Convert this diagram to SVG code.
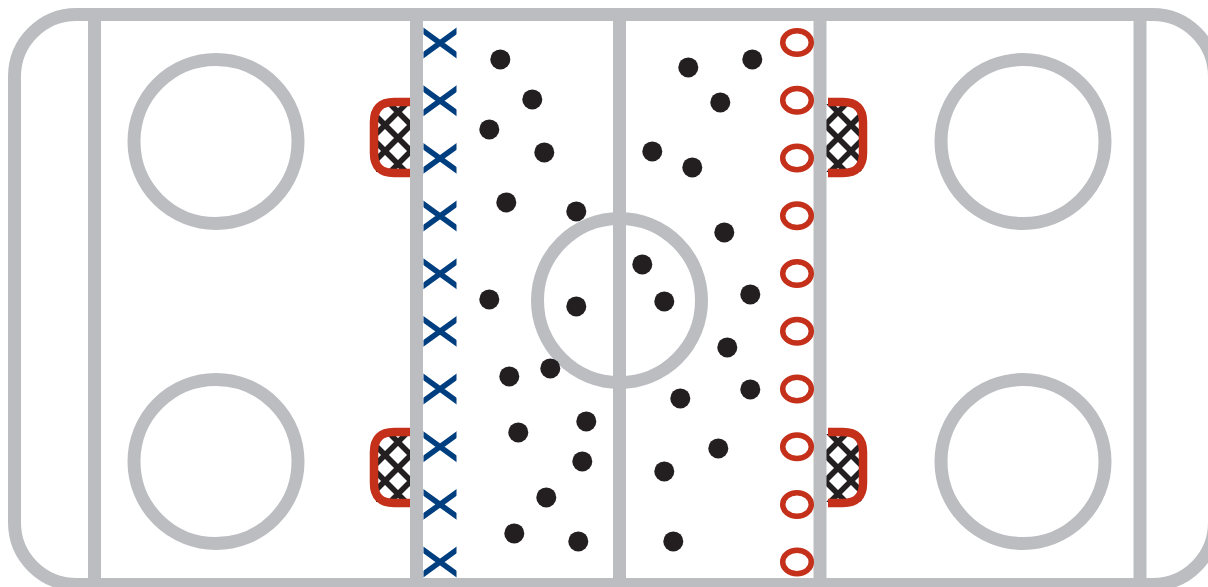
<svg xmlns="http://www.w3.org/2000/svg" width="1208" height="587" viewBox="0 0 1208 587">
<style>
.l{fill:none;stroke:#bbbdc1;stroke-width:13}
.x{fill:none;stroke:#003f7f;stroke-width:5.500}
.o{fill:none;stroke:#c4301a;stroke-width:5.500}
.d{fill:#231f20}
.n{fill:none;stroke:#231f20;stroke-width:5.500}
.r{fill:none;stroke:#c4301a;stroke-width:8.500}
</style>
<defs>
<clipPath id="cl"><rect x="376" y="104" width="36" height="68"/></clipPath>
<clipPath id="cr"><rect x="826" y="104" width="36" height="68"/></clipPath>
<clipPath id="cx"><rect x="-16.500" y="-16" width="33" height="32"/></clipPath>
<g id="gl"><g clip-path="url(#cl)"><path class="n" d="M338 120L440 18M338 146L440 44M338 172L440 70M338 198L440 96M338 224L440 122M338 250L440 148M338 0L440 102M338 26L440 128M338 52L440 154M338 78L440 180M338 104L440 206M338 130L440 232"/></g><path class="r" d="M410 102H394Q374 102 374 122V153Q374 173 394 173H410"/></g>
<g id="gr"><g clip-path="url(#cr)"><path class="n" d="M778 120L880 18M778 146L880 44M778 172L880 70M778 198L880 96M778 224L880 122M778 250L880 148M778 0L880 102M778 26L880 128M778 52L880 154M778 78L880 180M778 104L880 206M778 130L880 232"/></g><path class="r" d="M828 102H843Q863 102 863 122V153Q863 173 843 173H828"/></g>
<g id="x" clip-path="url(#cx)"><path class="x" d="M-20-14.500L20 14.500M-20 14.500L20-14.500"/></g>
<ellipse id="o" class="o" rx="14.300" ry="11.800"/>
</defs>
<g id="goals">
<use href="#gl"/><use href="#gl" y="330"/><use href="#gr"/><use href="#gr" y="330"/>
</g>
<g id="rink">
<rect class="l" x="14.500" y="14.500" width="1200" height="570" rx="62" ry="62"/>
<path class="l" d="M94.500 14V585M416.500 14V585M619.500 14V585M820 14V585M1140 14V585"/>
<circle class="l" cx="216" cy="141.500" r="82"/><circle class="l" cx="216" cy="461.500" r="82"/>
<circle class="l" cx="1023" cy="141.500" r="82"/><circle class="l" cx="1023" cy="461.500" r="82"/>
<circle class="l" cx="619.500" cy="300.500" r="82"/>
</g>
<g id="team-x">
<use href="#x" x="440" y="43"/><use href="#x" x="440" y="100.700"/><use href="#x" x="440" y="158.400"/><use href="#x" x="440" y="216"/><use href="#x" x="440" y="273.700"/><use href="#x" x="440" y="331.400"/><use href="#x" x="440" y="389"/><use href="#x" x="440" y="446.700"/><use href="#x" x="440" y="504.400"/><use href="#x" x="440" y="562"/>
</g>
<g id="team-o">
<use href="#o" x="797" y="42.500"/><use href="#o" x="797" y="100.200"/><use href="#o" x="797" y="158"/><use href="#o" x="797" y="215.700"/><use href="#o" x="797" y="273.500"/><use href="#o" x="797" y="331.200"/><use href="#o" x="797" y="389"/><use href="#o" x="797" y="446.700"/><use href="#o" x="797" y="504.500"/><use href="#o" x="797" y="562"/>
</g>
<g id="dots" class="d" transform="translate(0.300 0.400)">
<circle cx="500" cy="59" r="10"/><circle cx="532" cy="99" r="10"/><circle cx="489" cy="129" r="10"/><circle cx="544" cy="152" r="10"/><circle cx="506" cy="202" r="10"/><circle cx="576" cy="211" r="10"/><circle cx="489" cy="299" r="10"/><circle cx="576" cy="306" r="10"/><circle cx="509" cy="376" r="10"/><circle cx="550" cy="368" r="10"/><circle cx="518" cy="432" r="10"/><circle cx="586" cy="421" r="10"/><circle cx="582" cy="461" r="10"/><circle cx="546" cy="497" r="10"/><circle cx="514" cy="533" r="10"/><circle cx="578" cy="541" r="10"/>
<circle cx="688" cy="67" r="10"/><circle cx="752" cy="59" r="10"/><circle cx="720" cy="102" r="10"/><circle cx="652" cy="151" r="10"/><circle cx="692" cy="167" r="10"/><circle cx="724" cy="232" r="10"/><circle cx="642" cy="264" r="10"/><circle cx="664" cy="301" r="10"/><circle cx="750" cy="294" r="10"/><circle cx="727" cy="347" r="10"/><circle cx="680" cy="398" r="10"/><circle cx="750" cy="389" r="10"/><circle cx="718" cy="448" r="10"/><circle cx="664" cy="471" r="10"/><circle cx="673" cy="541" r="10"/>
</g>
</svg>
